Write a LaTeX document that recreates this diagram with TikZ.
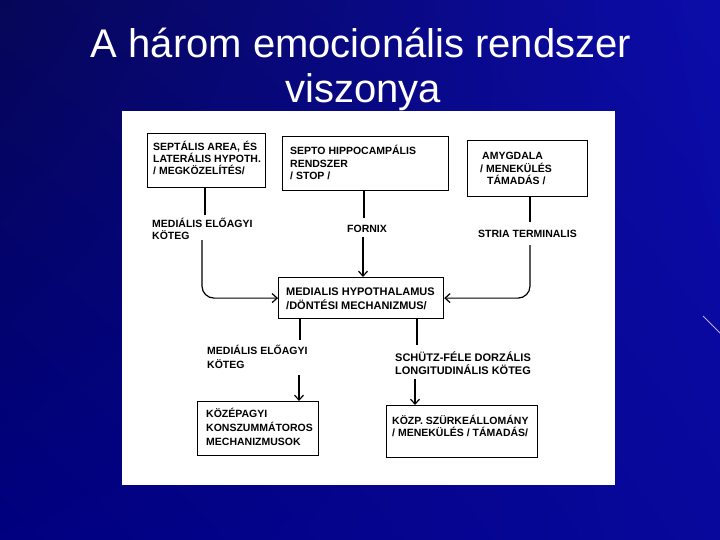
\documentclass[tikz,border=0pt]{standalone}
\usepackage{fontspec}
\setmainfont{Liberation Sans}
\usetikzlibrary{arrows.meta,shadings}
\definecolor{bgul}{RGB}{6,6,88}
\definecolor{bgur}{RGB}{12,12,170}
\definecolor{bgll}{RGB}{0,0,128}
\definecolor{bglr}{RGB}{8,8,156}
\definecolor{streak}{RGB}{190,170,255}
\tikzset{
  title/.style={text=white, inner sep=0, font=\fontsize{40}{44}\selectfont},
  box/.style={draw, line width=1.2pt, inner sep=0, anchor=north west},
  lbl/.style={anchor=base west, align=left, inner sep=0, font=\bfseries\fontsize{10.5}{12}\selectfont},
  wire/.style={line width=1.2pt},
  arr/.style={wire, -{Straight Barb[length=5pt,width=9pt]}},
}
\begin{document}
\begin{tikzpicture}[x=1pt,y=-1pt]
\useasboundingbox (0,0) rectangle (720,540);
\shade[upper left=bgul, upper right=bgur, lower left=bgll, lower right=bglr] (0,0) rectangle (720,540);
\draw[streak, line width=1pt] (703,316) -- (720,333);
% title
\node[title, anchor=base] (t1) at (361,58) {A három emocionális rendszer};
\node[title, anchor=base] (t2) at (363,103) {viszonya};
% white panel
\fill[white] (122,111) rectangle (615,485);
% boxes
\node[box, minimum width=118, minimum height=54] (b1) at (147,133) {};
\node[box, minimum width=166, minimum height=54] (b2) at (282,136) {};
\node[box, minimum width=120, minimum height=56] (b3) at (467,140) {};
\node[box, minimum width=165, minimum height=41] (b4) at (278,277) {};
\node[box, minimum width=121, minimum height=54] (b5) at (197,401) {};
\node[box, minimum width=151, minimum height=52] (b6) at (386,405) {};
% box texts (anchor = baseline of last line)
\node[lbl] (b1t) at (153,175) {SEPTÁLIS AREA, ÉS\\LATERÁLIS HYPOTH.\\/ MEGKÖZELÍTÉS/};
\node[lbl, font=\bfseries\fontsize{10.5}{12.5}\selectfont] (b2t) at (290,180) {SEPTO HIPPOCAMPÁLIS\\RENDSZER\\/ STOP /};
\node[lbl, font=\bfseries\fontsize{10.5}{12.5}\selectfont] (b3t) at (480,185) {\hspace{2pt}AMYGDALA\\/ MENEKÜLÉS\\\hspace{7pt}TÁMADÁS /};
\node[lbl, font=\bfseries\fontsize{11}{14}\selectfont] (b4t) at (286,309) {MEDIALIS HYPOTHALAMUS\\/DÖNTÉSI MECHANIZMUS/};
\node[lbl, font=\bfseries\fontsize{10.5}{14}\selectfont] (b5t) at (206,445) {KÖZÉPAGYI\\KONSZUMMÁTOROS\\MECHANIZMUSOK};
\node[lbl] (b6t) at (392,436) {KÖZP. SZÜRKEÁLLOMÁNY\\/ MENEKÜLÉS / TÁMADÁS/};
% connector labels
\node[lbl] (l1) at (152,240) {MEDIÁLIS ELŐAGYI\\KÖTEG};
\node[lbl] (l2) at (347,233) {FORNIX};
\node[lbl] (l3) at (478,237) {STRIA TERMINALIS};
\node[lbl, font=\bfseries\fontsize{10.5}{14}\selectfont] (l4) at (207,368) {MEDIÁLIS ELŐAGYI\\KÖTEG};
\node[lbl, font=\bfseries\fontsize{11}{13}\selectfont] (l5) at (395,374) {SCHÜTZ-FÉLE DORZÁLIS\\LONGITUDINÁLIS KÖTEG};
% connector break points
\coordinate (c1a) at (205,215);
\coordinate (c1b) at (202,240);
\coordinate (c2a) at (364,218);
\coordinate (c2b) at (363,237);
\coordinate (c3a) at (530,222);
\coordinate (c3b) at (530,245);
\coordinate (c4a) at (300,340);
\coordinate (c4b) at (299,375);
\coordinate (c5a) at (417,345);
\coordinate (c5b) at (415,379);
% connectors
\draw[wire] (b1.south -| c1a) -- (c1a);
\draw[arr, rounded corners=12pt] (c1b) |- (b4.west);
\draw[wire] (b2.south -| c2a) -- (c2a);
\draw[arr] (c2b) -- (c2b |- b4.north);
\draw[wire] (b3.south -| c3a) -- (c3a);
\draw[arr, rounded corners=12pt] (c3b) |- (b4.east);
\draw[wire] (b4.south -| c4a) -- (c4a);
\draw[arr] (c4b) -- (c4b |- b5.north);
\draw[wire] (b4.south -| c5a) -- (c5a);
\draw[arr] (c5b) -- (c5b |- b6.north);
\end{tikzpicture}
\end{document}
